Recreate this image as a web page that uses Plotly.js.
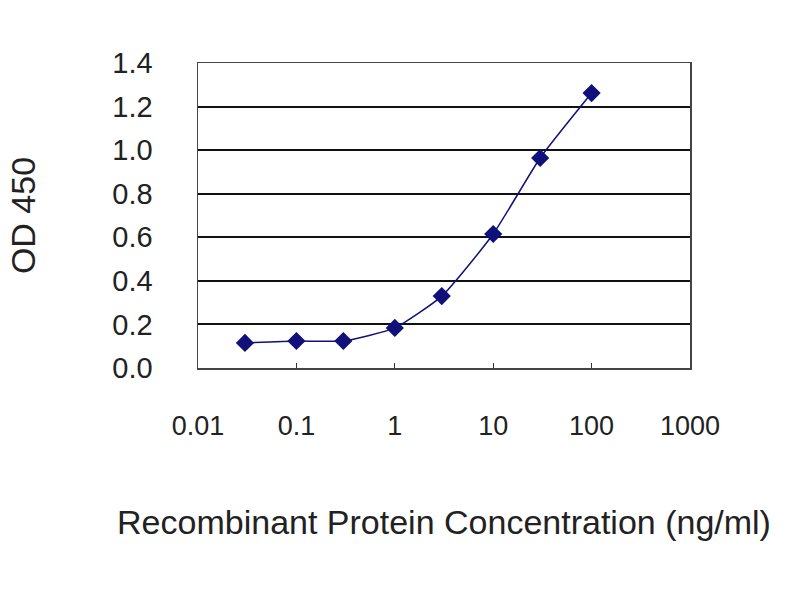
<!DOCTYPE html>
<html>
<head>
<meta charset="utf-8">
<script src="https://cdn.plot.ly/plotly-3.0.1.min.js"></script>
<style>
  body { margin: 0; background: #fff; }
  #myDiv { width: 800px; height: 600px; }
</style>
</head>
<body>
<div id="myDiv"></div>
<script>
const conc = [0.03, 0.1, 0.3, 1, 3, 10, 30, 100]
const od = [0.115, 0.124, 0.124, 0.184, 0.33, 0.615, 0.964, 1.262]

const xTicks = [0.01, 0.1, 1, 10, 100, 1000]
const xTickText = ["0.01", "0.1", "1", "10", "100", "1000"]
const yTicks = [0, 0.2, 0.4, 0.6, 0.8, 1.0, 1.2, 1.4]

const navy = "#10107a"
const font = "Liberation Sans, Arial, sans-serif"

const trace = {
  x: conc,
  y: od,
  mode: "lines+markers",
  type: "scatter",
  line: { color: navy, width: 1.5, shape: "spline", smoothing: 0.5 },
  marker: { symbol: "diamond", size: 14, color: navy },
  showlegend: false,
}

const layout = {
  width: 800,
  height: 600,
  margin: { l: 198, r: 110, t: 63, b: 232 },
  paper_bgcolor: "#fff",
  plot_bgcolor: "#fff",
  font: { family: font, color: "#222" },
  xaxis: {
    type: "log",
    range: [-2, 3],
    tickvals: xTicks,
    ticktext: xTickText,
    tickfont: { size: 27 },
    ticks: "inside",
    ticklen: 5,
    tickcolor: "#333",
    ticklabelstandoff: 33,
    showgrid: false,
    zeroline: false,
    showline: true,
    linecolor: "#444",
    linewidth: 1.5,
    mirror: true,
    title: { text: "Recombinant Protein Concentration (ng/ml)", font: { size: 34 }, standoff: 70 },
  },
  yaxis: {
    range: [0, 1.4],
    tickvals: yTicks,
    tickformat: ".1f",
    tickfont: { size: 29 },
    ticks: "",
    ticklabelstandoff: 38,
    showgrid: true,
    gridcolor: "#111",
    gridwidth: 2,
    zeroline: false,
    showline: true,
    linecolor: "#444",
    linewidth: 1.5,
    mirror: true,
    title: { text: "OD 450", font: { size: 34 }, standoff: 66 },
  },
}

Plotly.newPlot("myDiv", [trace], layout, { staticPlot: true })
</script>
</body>
</html>
